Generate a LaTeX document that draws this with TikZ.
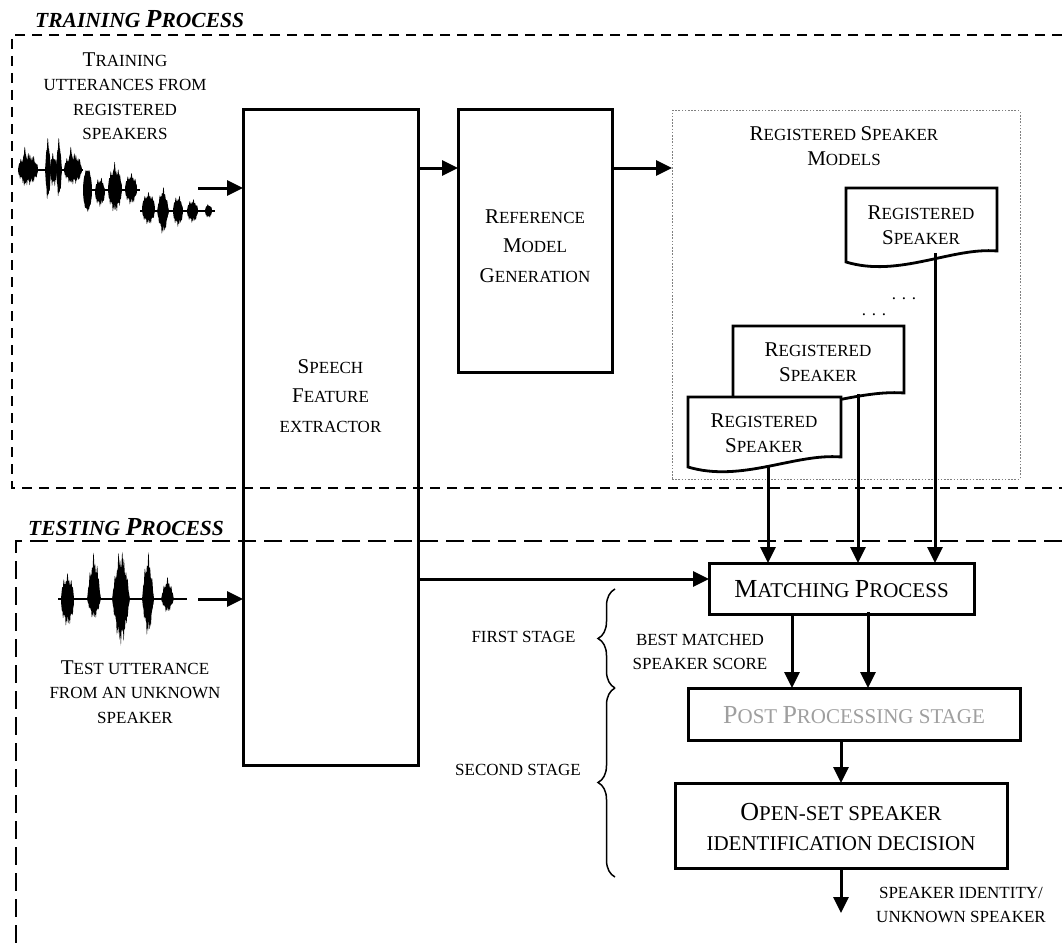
\documentclass[tikz,border=0pt]{standalone}
\usepackage{fontspec}
\setmainfont{Liberation Serif}
\usetikzlibrary{arrows.meta,decorations.pathreplacing,calc}

\newcommand\Ba[1]{{\fontsize{21}{24}\selectfont #1}}
\newcommand\Bb[1]{{\fontsize{26}{30}\selectfont #1}}

% rounded waveform burst: x1, x2, centre y, amp up, amp down, jaggedness
\newcommand\wb[6]{%
  \fill (#1,#3) -- plot[domain=#1:#2, samples=60] (\x, {#3-#4*sqrt(abs(sin(180*(\x-#1)/(#2-#1))))*(1-#6+#6*abs(sin((\x-#1)*97)*sin((\x-#1)*41)))})
     -- plot[domain=#2:#1, samples=60] (\x, {#3+#5*sqrt(abs(sin(180*(\x-#1)/(#2-#1))))*(1-#6+#6*abs(sin((\x-#1)*131)*sin((\x-#1)*53)))}) -- cycle;}
% spiky waveform burst: same arguments
\newcommand\ws[6]{%
  \fill (#1,#3) -- plot[domain=#1:#2, samples=60] (\x, {#3-#4*sin(180*(\x-#1)/(#2-#1))*(1-#6+#6*abs(sin((\x-#1)*97)*sin((\x-#1)*41)))})
     -- plot[domain=#2:#1, samples=60] (\x, {#3+#5*sin(180*(\x-#1)/(#2-#1))*(1-#6+#6*abs(sin((\x-#1)*131)*sin((\x-#1)*53)))}) -- cycle;}

% document shape: x1, x2, top, yLeftBottom, yRightBottom
\newcommand\docpath[5]{%
  \filldraw[docshape] (#1,#3) -- (#2,#3) -- (#2,#5)
    .. controls ({#2-0.3*(#2-#1)},{#5-4}) and ({#1+0.35*(#2-#1)},{#4+16}) .. (#1,#4) -- cycle;}

\tikzset{
  arr/.style={line width=3pt, -{Triangle[length=16pt,width=15pt]}},
  box/.style={draw, line width=3pt, fill=white, inner sep=0pt, outer sep=0pt, anchor=north west},
  txtA/.style={font=\fontsize{17}{24.5}\selectfont, align=center, inner sep=0pt},
  txtC/.style={font=\fontsize{17}{29.5}\selectfont, align=center, inner sep=0pt},
  txtB/.style={font=\fontsize{21}{30}\selectfont, align=center, inner sep=0pt},
  ttl/.style={font=\fontsize{21.5}{24}\selectfont\bfseries\itshape, anchor=west, inner sep=0pt},
  dashtrain/.style={line width=2.2pt, dash pattern=on 10pt off 7pt},
  dashtest/.style={line width=2.2pt, dash pattern=on 18pt off 8pt},
  dotbox/.style={draw=gray, line width=1pt, dash pattern=on 1.6pt off 1.6pt, inner sep=0pt, outer sep=0pt, anchor=north west},
  docshape/.style={line width=2.8pt, fill=white},
  bracestyle/.style={decorate, decoration={brace, amplitude=17pt}, line width=1.5pt},
}

\begin{document}
\begin{tikzpicture}[x=1pt,y=-1pt]
\useasboundingbox (0,0) rectangle (1062,947);

% ---------- process frames ----------
\node[ttl] (trtitle) at (35,19) {TRAINING \Bb{P}ROCESS};
\draw[dashtrain] (1062,35) -- (12,35) -- (12,488) -- (1062,488);
\node[ttl] (tsttitle) at (28,527) {TESTING \Bb{P}ROCESS};
\draw[dashtest] (1062,541) -- (16,541) -- (16,947);

% ---------- training waveform ----------
\node[txtA] (trtxt) at (125,96) {\Ba{T}RAINING\\UTTERANCES FROM\\REGISTERED\\SPEAKERS};
\draw[line width=1.3pt] (18,170) -- (83,170);
\draw[line width=1.3pt] (83,190) -- (140,190);
\draw[line width=1.3pt] (140,211) -- (215,211);
\wb{18}{38}{170}{18}{16}{0.45}
\ws{22}{28}{170}{24}{18}{0.3}
\ws{45}{51}{170}{33}{33}{0.3}
\wb{50}{57}{170}{18}{18}{0.45}
\ws{56}{62}{170}{33}{30}{0.3}
\wb{64}{82}{170}{18}{15}{0.45}
\ws{68}{74}{170}{24}{14}{0.3}
\wb{83}{92}{190}{22}{22}{0.15}
\wb{95}{105}{192}{15}{15}{0.4}
\wb{108}{122}{189}{24}{24}{0.4}
\ws{112}{117}{189}{28}{22}{0.3}
\wb{125}{137}{189}{16}{16}{0.4}
\wb{142}{155}{209}{17}{16}{0.35}
\ws{157}{169}{211}{24}{24}{0.35}
\wb{173}{183}{211}{16}{16}{0.4}
\wb{187}{198}{211}{12}{12}{0.4}
\wb{205}{212}{211}{7}{7}{0.3}

% ---------- test waveform ----------
\draw[line width=1.3pt] (58,599) -- (187,599);
\wb{61}{74}{600}{27}{27}{0.4}
\ws{87}{101}{599}{47}{21}{0.4}
\ws{112}{130}{599}{51}{48}{0.4}
\ws{142}{154}{599}{47}{38}{0.4}
\ws{161}{174}{599}{22}{14}{0.4}
\node[txtA] (tsttxt) at (135,692) {\Ba{T}EST UTTERANCE\\FROM AN UNKNOWN\\SPEAKER};

% ---------- main boxes ----------
\node[box, fill=none, minimum width=175pt, minimum height=655pt] (ext) at (243,110) {};
\node[txtC] (extlbl) at (330.5,396) {\Ba{S}PEECH\\\Ba{F}EATURE\\EXTRACTOR};
\node[box, minimum width=154pt, minimum height=262pt] (ref) at (458,110) {};
\node[txtC] (reflbl) at (535,246) {\Ba{R}EFERENCE\\\Ba{M}ODEL\\\Ba{G}ENERATION};

\node[dotbox, minimum width=348pt, minimum height=368pt] (models) at (672,111) {};
\node[txtA] (modlbl) at (844,146) {\Ba{R}EGISTERED \Ba{S}PEAKER\\\Ba{M}ODELS};

% registered speaker documents
\docpath{846}{997}{188}{262}{251}
\node[txtA] (doc1) at (921,225) {\Ba{R}EGISTERED\\\Ba{S}PEAKER};
\node[font=\fontsize{17}{20}\selectfont, inner sep=0pt] (dotsA) at (904,299) {.\,\,.\,\,.};
\node[font=\fontsize{17}{20}\selectfont, inner sep=0pt] (dotsB) at (874,315) {.\,\,.\,\,.};
\docpath{733}{904}{326}{404}{393}
\node[txtA] (doc2) at (818,362) {\Ba{R}EGISTERED\\\Ba{S}PEAKER};
\docpath{688}{841}{397}{467}{457}
\begin{scope}
  \clip (688,397) rectangle (841,452);
  \node[txtA] (doc3) at (764,433) {\Ba{R}EGISTERED\\\Ba{S}PEAKER};
\end{scope}

% second stage boxes
\node[box, minimum width=265pt, minimum height=51pt] (match) at (709,563) {};
\node[txtB] (matchlbl) at (841.5,589) {\Bb{M}ATCHING \Bb{P}ROCESS};
\node[box, minimum width=332pt, minimum height=52pt] (post) at (688,688) {};
\node[txtB, text=gray!75] (postlbl) at (854,715) {\Bb{P}OST \Bb{P}ROCESSING STAGE};
\node[box, minimum width=332pt, minimum height=85pt] (open) at (675,783) {};
\node[txtB] (openlbl) at (841,827) {\Bb{O}PEN-SET SPEAKER\\IDENTIFICATION DECISION};

% ---------- labels ----------
\node[txtA] (bestlbl) at (700,652) {BEST MATCHED\\SPEAKER SCORE};
\node[txtA] (firstlbl) at (523.5,637) {FIRST STAGE};
\node[txtA] (secondlbl) at (518,770) {SECOND STAGE};
\node[txtA] (outlbl) at (961,905) {SPEAKER IDENTITY/\\UNKNOWN SPEAKER};

% braces
\draw[bracestyle] (615,688) -- (615,589);
\draw[bracestyle] (615,877) -- (615,688);

% ---------- connectors ----------
\coordinate (w1) at (198,188);
\draw[arr] (w1) -- (w1 -| ext.west);
\coordinate (w2) at (198,599);
\draw[arr] (w2) -- (w2 -| ext.west);
\coordinate (e1) at (418,168);
\draw[arr] (e1) -- (e1 -| ref.west);
\coordinate (r1) at (612,168);
\draw[arr] (r1) -- (r1 -| models.west);
\coordinate (e2) at (418,579);
\draw[arr] (e2) -- (e2 -| match.west);

\coordinate (d1b) at (935,253);
\coordinate (d2b) at (858,394);
\coordinate (d3b) at (768,466);
\draw[arr] (d1b) -- (d1b |- match.north);
\draw[arr] (d2b) -- (d2b |- match.north);
\draw[arr] (d3b) -- (d3b |- match.north);

\coordinate (m1) at (792,614);
\coordinate (m2) at (868,612);
\draw[arr] (m1) -- (m1 |- post.north);
\draw[arr] (m2) -- (m2 |- post.north);
\draw[arr] (post.south -| open.north) -- (open.north);
\coordinate (outend) at ($(open.south)+(0,45)$);
\draw[arr] (open.south) -- (outend);
\end{tikzpicture}
\end{document}
